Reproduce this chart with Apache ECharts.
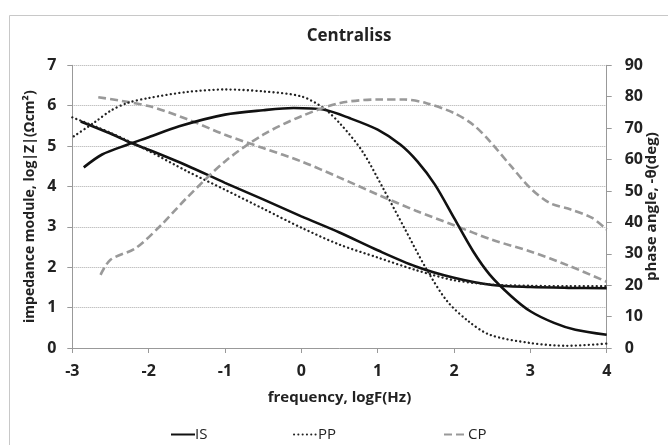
<!DOCTYPE html>
<html>
<head>
<meta charset="utf-8">
<script src="https://cdn.jsdelivr.net/npm/echarts@6/dist/echarts.min.js"></script>
<style>
html,body{margin:0;padding:0;background:#fff;}
#c{width:668px;height:445px;}
</style>
</head>
<body>
<div id="c"></div>
<script>
// ---- data ----
var xTicks = [-3, -2, -1, 0, 1, 2, 3, 4];

// impedance modulus log|Z| (left axis)
var isModX = [-2.89, -2.5, -2.28, -2.0, -1.5, -1.0, -0.5, 0, 0.5, 1.0, 1.5, 2.0, 2.5, 3.0, 3.5, 4.0];
var isModY = [5.61, 5.31, 5.12, 4.91, 4.52, 4.09, 3.68, 3.26, 2.86, 2.42, 2.02, 1.74, 1.56, 1.51, 1.49, 1.48];

var ppModX = [-3.0, -2.5, -2.0, -1.5, -1.0, -0.5, 0, 0.5, 1.0, 1.5, 2.0, 2.5, 3.0, 3.5, 4.0];
var ppModY = [5.71, 5.33, 4.88, 4.38, 3.92, 3.45, 2.98, 2.56, 2.24, 1.93, 1.68, 1.57, 1.54, 1.53, 1.53];

var cpModX = [-2.66, -2.0, -1.5, -1.0, -0.5, 0, 0.5, 1.0, 1.5, 2.0, 2.5, 3.0, 3.5, 4.0];
var cpModY = [6.21, 5.99, 5.67, 5.28, 4.95, 4.62, 4.22, 3.80, 3.40, 3.04, 2.68, 2.39, 2.04, 1.64];

// phase angle -theta (right axis)
var isPhX = [-2.85, -2.61, -2.28, -2.0, -1.6, -1.0, -0.5, -0.1, 0.29, 0.63, 1.0, 1.3, 1.52, 1.75, 2.0, 2.25, 2.47, 2.75, 3.0, 3.31, 3.59, 4.0];
var isPhY = [57.5, 61.6, 64.7, 67.1, 70.6, 74.3, 75.7, 76.4, 75.9, 73.2, 69.5, 64.7, 59.4, 52.0, 41.4, 30.8, 23.3, 16.5, 11.7, 8.0, 5.8, 4.2];

var ppPhX = [-2.98, -2.7, -2.5, -2.28, -2.0, -1.5, -1.0, -0.5, 0, 0.29, 0.52, 0.8, 1.07, 1.35, 1.63, 1.91, 2.19, 2.47, 3.0, 3.48, 4.0];
var ppPhY = [67.4, 72.0, 75.5, 78.0, 79.6, 81.5, 82.3, 81.7, 80.1, 76.4, 71.1, 62.6, 50.9, 38.2, 25.5, 14.9, 8.5, 4.2, 1.6, 0.7, 1.4];

var cpPhX = [-2.63, -2.5, -2.17, -1.83, -1.5, -1.0, -0.5, 0, 0.51, 1.0, 1.35, 1.63, 2.0, 2.25, 2.47, 2.75, 3.0, 3.25, 3.53, 3.81, 4.0];
var cpPhY = [23.3, 28.1, 31.8, 39.3, 47.8, 59.4, 67.9, 73.8, 78.0, 79.1, 79.1, 78.0, 74.8, 71.1, 65.8, 57.8, 50.9, 46.2, 44.1, 41.4, 37.7];

var leftTicks = [0, 1, 2, 3, 4, 5, 6, 7];
var rightTicks = [0, 10, 20, 30, 40, 50, 60, 70, 80, 90];

function zip(xs, ys) { return xs.map(function (x, i) { return [x, ys[i]]; }); }

var FONT = '"Open Sans", "DejaVu Sans", sans-serif';
var solid = { color: '#111', width: 2.6, type: 'solid' };
var dotted = { color: '#222', width: 2.3, type: [0.1, 4.2], cap: 'round' };
var dashed = { color: '#999', width: 2.6, type: [8, 4] };

function ser(name, data, style, yIdx) {
  return {
    name: name, type: 'line', data: data, yAxisIndex: yIdx,
    showSymbol: false, symbol: 'none', smooth: 0.3,
    lineStyle: style, itemStyle: { color: style.color },
    emphasis: { disabled: true }, animation: false, z: 3
  };
}

var chart = echarts.init(document.getElementById('c'), null, { renderer: 'canvas' });
chart.setOption({
  backgroundColor: '#fff',
  animation: false,
  graphic: [{
    type: 'rect', shape: { x: 9.5, y: 15.5, width: 670, height: 440 },
    style: { fill: 'none', stroke: '#c8c8c8', lineWidth: 1 }, z: -1
  }],
  title: {
    text: 'Centraliss', left: 344, top: 23, textAlign: 'center',
    textStyle: { fontFamily: FONT, fontSize: 17, fontWeight: 'bold', color: '#222' }
  },
  legend: [
    { data: ['IS'], left: 170, top: 427 },
    { data: ['PP'], left: 293, top: 427 },
    { data: ['CP'], left: 443, top: 427 }
  ].map(function (l) {
    l.itemWidth = 24; l.itemHeight = 12; l.itemGap = 0; l.padding = 0;
    l.itemStyle = { opacity: 0 };
    l.textStyle = { fontFamily: FONT, fontSize: 15, color: '#222', padding: [0, 0, 0, -5] };
    return l;
  }),
  grid: { left: 72.3, right: 61.3, top: 65.3, bottom: 97, containLabel: false, outerBoundsMode: 'none' },
  xAxis: {
    type: 'value', min: -3, max: 4, interval: 1,
    name: 'frequency, logF(Hz)', nameLocation: 'middle', nameGap: 42, nameMoveOverlap: false,
    nameTextStyle: { fontFamily: FONT, fontSize: 15, fontWeight: 'bold', color: '#222' },
    axisLine: { show: true, onZero: false, lineStyle: { color: '#999', width: 1 } },
    axisTick: { show: true, length: 5, lineStyle: { color: '#999' } },
    axisLabel: { margin: 15, fontFamily: FONT, fontSize: 16, fontWeight: 'bold', color: '#222',
      formatter: function (v) { return xTicks.indexOf(v) >= 0 ? String(v) : ''; } },
    splitLine: { show: false }
  },
  yAxis: [{
    type: 'value', min: 0, max: 7, interval: 1, position: 'left',
    name: 'impedance module, log|Z|(Ωcm²)', nameLocation: 'middle', nameGap: 35, nameRotate: 90,
    nameMoveOverlap: false,
    nameTextStyle: { fontFamily: FONT, fontSize: 14, fontWeight: 'bold', color: '#222' },
    axisLine: { show: true, onZero: false, lineStyle: { color: '#999', width: 1 } },
    axisTick: { show: true, length: 5, lineStyle: { color: '#999' } },
    axisLabel: { margin: 16, fontFamily: FONT, fontSize: 16, fontWeight: 'bold', color: '#222',
      formatter: function (v) { return leftTicks.indexOf(v) >= 0 ? String(v) : ''; } },
    splitLine: { show: true, lineStyle: { color: '#aaa', width: 1, type: [1, 1] } }
  }, {
    type: 'value', min: 0, max: 90, interval: 10, position: 'right',
    name: 'phase angle, -θ(deg)', nameLocation: 'middle', nameGap: 38, nameRotate: 90,
    nameMoveOverlap: false,
    nameTextStyle: { fontFamily: FONT, fontSize: 15, fontWeight: 'bold', color: '#222' },
    axisLine: { show: true, onZero: false, lineStyle: { color: '#999', width: 1 } },
    axisTick: { show: true, length: 5, lineStyle: { color: '#999' } },
    axisLabel: { margin: 18, fontFamily: FONT, fontSize: 16, fontWeight: 'bold', color: '#222',
      formatter: function (v) { return rightTicks.indexOf(v) >= 0 ? String(v) : ''; } },
    splitLine: { show: false }
  }],
  series: [
    ser('IS', zip(isModX, isModY), solid, 0),
    ser('PP', zip(ppModX, ppModY), dotted, 0),
    ser('CP', zip(cpModX, cpModY), dashed, 0),
    ser('IS', zip(isPhX, isPhY), solid, 1),
    ser('PP', zip(ppPhX, ppPhY), dotted, 1),
    ser('CP', zip(cpPhX, cpPhY), dashed, 1)
  ]
});
</script>
</body>
</html>
